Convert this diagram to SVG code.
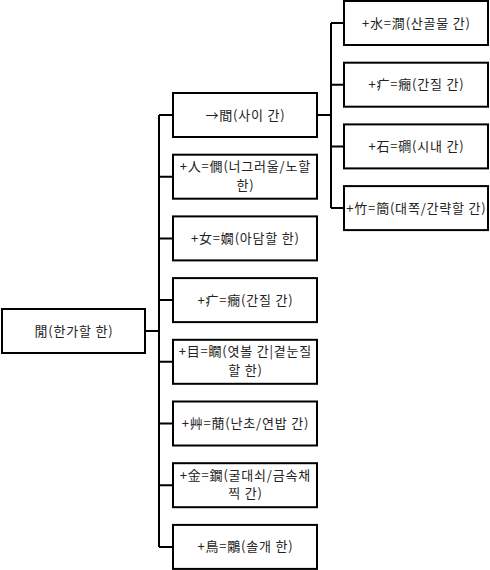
<svg xmlns="http://www.w3.org/2000/svg" width="490" height="570" viewBox="0 0 490 570">
<style>
.box{fill:#fff;stroke:#000;stroke-width:2}
.t{font-family:"Noto Sans CJK KR","Noto Sans CJK SC",sans-serif;font-size:13px;letter-spacing:0.8px;fill:#222;text-anchor:middle}
.c{fill:none;stroke:#000;stroke-width:2}
</style>
<g id="connectors">
<path class="c" d="M145,331H159M159,115V547M159,115H173M159,176.7H173M159,238.4H173M159,300.1H173M159,361.8H173M159,423.5H173M159,485.2H173M159,546.9H173"/>
<path class="c" d="M317,115H331M331,23V208.1M331,23H344M331,84.7H344M331,146.4H344M331,208.1H344"/>
</g>
<g id="root"><rect class="box" x="2" y="309" width="143" height="44"/><text class="t" x="74" y="335.5">閒(한가할 한)</text></g>
<g id="n1"><rect class="box" x="173" y="93" width="144" height="44"/><text class="t" x="245.4" y="119.5">→間(사이 간)</text></g>
<g id="n2"><rect class="box" x="173" y="154.7" width="144" height="44"/><text class="t" x="245.4" y="171">+人=僩(너그러울/노할</text><text class="t" x="245.4" y="189.5">한)</text></g>
<g id="n3"><rect class="box" x="173" y="216.4" width="144" height="44"/><text class="t" x="245.4" y="242.9">+女=嫺(아담할 한)</text></g>
<g id="n4"><rect class="box" x="173" y="278.1" width="144" height="44"/><text class="t" x="245.4" y="304.6">+疒=癇(간질 간)</text></g>
<g id="n5"><rect class="box" x="173" y="339.8" width="144" height="44"/><text class="t" x="245.4" y="356">+目=瞯(엿볼 간|곁눈질</text><text class="t" x="245.4" y="374.5">할 한)</text></g>
<g id="n6"><rect class="box" x="173" y="401.5" width="144" height="44"/><text class="t" x="245.4" y="428">+艸=蕑(난초/연밥 간)</text></g>
<g id="n7"><rect class="box" x="173" y="463.2" width="144" height="44"/><text class="t" x="245.4" y="479.5">+金=鐗(굴대쇠/금속채</text><text class="t" x="245.4" y="498">찍 간)</text></g>
<g id="n8"><rect class="box" x="173" y="524.9" width="144" height="44"/><text class="t" x="245.4" y="551.4">+鳥=鷴(솔개 한)</text></g>
<g id="r1"><rect class="box" x="344" y="1" width="144" height="44"/><text class="t" x="416.4" y="27.5">+水=澗(산골물 간)</text></g>
<g id="r2"><rect class="box" x="344" y="62.7" width="144" height="44"/><text class="t" x="416.4" y="89.2">+疒=癇(간질 간)</text></g>
<g id="r3"><rect class="box" x="344" y="124.4" width="144" height="44"/><text class="t" x="416.4" y="150.9">+石=磵(시내 간)</text></g>
<g id="r4"><rect class="box" x="344" y="186.1" width="144" height="44"/><text class="t" x="416.4" y="212.6">+竹=簡(대쪽/간략할 간)</text></g>
</svg>
